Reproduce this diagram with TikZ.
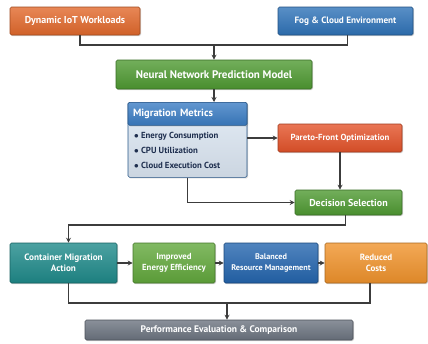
\documentclass[tikz,border=0pt]{standalone}
\usepackage{fontspec}
\setmainfont{PT Sans}
\usetikzlibrary{arrows.meta,shadows}
\definecolor{cOrange}{HTML}{E2692C}
\definecolor{cBlue}{HTML}{2F73B8}
\definecolor{cGreen}{HTML}{4F9A32}
\definecolor{cHead}{HTML}{3B7DC4}
\definecolor{cBody}{HTML}{DDE8F4}
\definecolor{cRed}{HTML}{E4532A}
\definecolor{cTeal}{HTML}{1F8A8A}
\definecolor{cLGreen}{HTML}{62A83C}
\definecolor{cDBlue}{HTML}{2465AE}
\definecolor{cAmber}{HTML}{F0932C}
\definecolor{cGray}{HTML}{6C7480}
\definecolor{cLine}{HTML}{3C3C3C}
\definecolor{cText}{HTML}{1F2F4F}
\newcommand{\fsz}[1]{\bfseries\fontsize{#1}{#1}\selectfont}
\tikzset{
  box/.style={draw=#1!70!black, line width=0.6pt, rounded corners=1.5pt,
    top color=#1!80!white, bottom color=#1!92!black,
    text=white, font=\fsz{10}, align=center,
    inner sep=2pt, drop shadow={shadow xshift=1pt, shadow yshift=-1pt, opacity=0.35}},
  conn/.style={draw=cLine, line width=1.6pt},
  arr/.style={conn, -{Stealth[length=5pt,width=5pt]}},
}
\begin{document}
\begin{tikzpicture}[x=1pt,y=-1pt]
\useasboundingbox (0,0) rectangle (428,343);
\node[box=cOrange, minimum width=130pt, minimum height=28pt] (iot) at (75,21) {Dynamic IoT Workloads};
\node[box=cBlue, minimum width=135pt, minimum height=28pt, font=\fsz{9.2}] (fog) at (345.5,21) {Fog \& Cloud Environment};
\node[box=cGreen, minimum width=196pt, minimum height=29pt, font=\fsz{11}] (nn) at (214,74.5) {Neural Network Prediction Model};
\node[box=cBody, draw=cHead!70!black, minimum width=119pt, minimum height=75pt, anchor=north] (mmbody) at (187.5,102) {};
\node[box=cHead, minimum width=119pt, minimum height=23pt, anchor=north, text width=109pt, align=left,
  font=\fsz{10.5}, drop shadow={opacity=0}] (mmhead) at (187.5,102) {Migration Metrics};
\node[text=cText, font=\bfseries\fontsize{8.8}{15}\selectfont, align=left, anchor=north west, inner sep=0pt] (mmlist) at (134,132)
  {$\bullet$ Energy Consumption\\ $\bullet$ CPU Utilization\\ $\bullet$ Cloud Execution Cost};
\node[box=cRed, minimum width=124pt, minimum height=28pt, font=\fsz{8.8}] (par) at (340,138) {Pareto-Front Optimization};
\node[box=cGreen, minimum width=107pt, minimum height=25pt] (dec) at (348.5,202.5) {Decision Selection};
\node[box=cTeal, minimum width=107pt, minimum height=40pt, font=\fsz{9.2}] (cont) at (63.5,263) {Container Migration\\[2pt]Action};
\node[box=cLGreen, minimum width=82pt, minimum height=40pt, font=\fsz{8.8}] (imp) at (174,263) {Improved\\[2pt]Energy Efficiency};
\node[box=cDBlue, minimum width=94pt, minimum height=40pt, font=\fsz{8.2}] (bal) at (271,263) {Balanced\\[2pt]Resource Management};
\node[box=cAmber, minimum width=102pt, minimum height=40pt, font=\fsz{9}] (red) at (376,263) {Reduced\\[2pt]Costs};
\node[box=cGray, minimum width=268pt, minimum height=20pt, font=\fsz{9.5}] (perf) at (219,330) {Performance Evaluation \& Comparison};
\coordinate (j1) at (214,45);
\coordinate (j2) at (200,225);
\coordinate (j3) at (227,303);
\draw[conn] ([xshift=5pt]iot.south) |- (j1) -| ([xshift=2pt]fog.south);
\draw[arr] (j1) -- (nn.north);
\draw[arr] (nn.south) -- (nn.south |- mmhead.north);
\draw[arr] (mmbody.east |- par.west) -- (par.west);
\draw[arr] (par.south) -- (par.south |- dec.north);
\draw[arr] (mmbody.south) |- (dec.west);
\draw[arr] ([xshift=-3pt]dec.south) |- (j2) -| ([xshift=5pt]cont.north);
\draw[arr] (cont.east) -- (imp.west);
\draw[arr] (imp.east) -- (bal.west);
\draw[arr] (bal.east) -- (red.west);
\draw[conn] ([xshift=5pt]cont.south) |- (j3) -| ([xshift=-6pt]red.south);
\draw[arr] (j3) -- (j3 |- perf.north);
\end{tikzpicture}
\end{document}
